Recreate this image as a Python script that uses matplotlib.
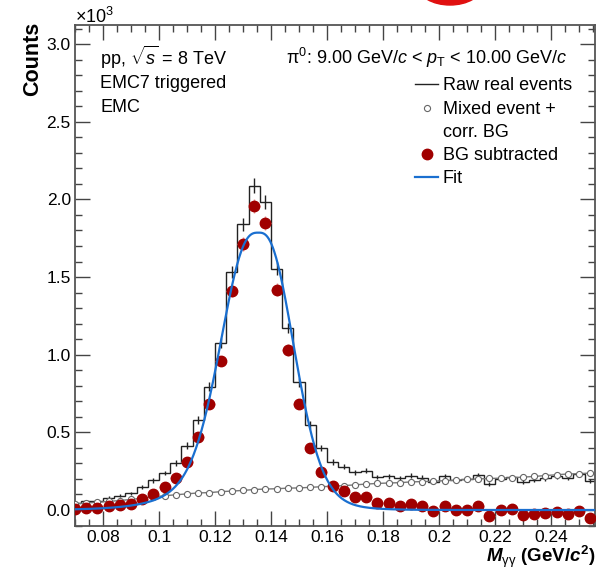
import numpy as np
import matplotlib.pyplot as plt
from matplotlib.lines import Line2D
from matplotlib.patches import Ellipse
from matplotlib.ticker import MultipleLocator, FuncFormatter

plt.rcParams['font.family'] = ['Liberation Sans', 'DejaVu Sans']
plt.rcParams['mathtext.fontset'] = 'custom'
plt.rcParams['mathtext.rm'] = 'Liberation Sans'
plt.rcParams['mathtext.it'] = 'Liberation Sans:italic'
plt.rcParams['mathtext.bf'] = 'Liberation Sans:bold'
plt.rcParams['mathtext.bfit'] = 'Liberation Sans:italic:bold'

# invariant mass bin centres (GeV/c^2), 4 MeV bins
mass = [0.070, 0.074, 0.078, 0.082, 0.086, 0.090, 0.094, 0.098, 0.102, 0.106,
        0.110, 0.114, 0.118, 0.122, 0.126, 0.130, 0.134, 0.138, 0.142, 0.146,
        0.150, 0.154, 0.158, 0.162, 0.166, 0.170, 0.174, 0.178, 0.182, 0.186,
        0.190, 0.194, 0.198, 0.202, 0.206, 0.210, 0.214, 0.218, 0.222, 0.226,
        0.230, 0.234, 0.238, 0.242, 0.246, 0.250, 0.254]
bin_width = 0.004

# counts in units of 10^3
raw = [0.045, 0.055, 0.061, 0.080, 0.091, 0.107, 0.148, 0.190, 0.238, 0.304,
       0.415, 0.580, 0.795, 1.077, 1.532, 1.839, 2.089, 1.981, 1.555, 1.171,
       0.822, 0.547, 0.397, 0.308, 0.279, 0.244, 0.253, 0.213, 0.216, 0.203,
       0.221, 0.208, 0.181, 0.216, 0.192, 0.197, 0.225, 0.166, 0.202, 0.213,
       0.180, 0.193, 0.204, 0.216, 0.206, 0.229, 0.189]
mixed = [0.040, 0.045, 0.050, 0.055, 0.061, 0.068, 0.076, 0.085, 0.092, 0.098,
         0.104, 0.110, 0.112, 0.118, 0.122, 0.126, 0.132, 0.135, 0.137, 0.141,
         0.142, 0.146, 0.150, 0.153, 0.157, 0.162, 0.167, 0.171, 0.174, 0.176,
         0.181, 0.183, 0.185, 0.189, 0.192, 0.197, 0.200, 0.203, 0.205, 0.208,
         0.212, 0.216, 0.222, 0.227, 0.232, 0.234, 0.238]
signal = [0.005, 0.010, 0.011, 0.025, 0.030, 0.039, 0.072, 0.105, 0.146, 0.206,
          0.311, 0.470, 0.683, 0.959, 1.410, 1.713, 1.957, 1.846, 1.418, 1.030,
          0.680, 0.401, 0.247, 0.155, 0.122, 0.082, 0.086, 0.042, 0.042, 0.027,
          0.040, 0.025, -0.004, 0.027, 0.000, 0.000, 0.025, -0.037, -0.003, 0.005,
          -0.032, -0.023, -0.018, -0.011, -0.026, -0.005, -0.049]

# peak fit: gaussian with exponential tails
fit_amp = 1.786
fit_mean = 0.1355
fit_sigma = 0.0105
fit_tail_lo = 0.011
fit_tail_hi = 0.008

mass = np.array(mass)
raw = np.array(raw)
mixed = np.array(mixed)
signal = np.array(signal)
raw_err = np.sqrt(raw * 1000) / 1000
sig_err = np.sqrt((raw + mixed) * 1000) / 1000


def peak(x):
    d = x - fit_mean
    g = np.exp(-0.5 * (d / fit_sigma) ** 2)
    lam = np.where(d < 0, fit_tail_lo, fit_tail_hi)
    return fit_amp * (g + (1 - g) * np.exp(-np.abs(d) / lam))


W, H = 604, 570
fig = plt.figure(figsize=(W / 100, H / 100), dpi=100)
ax = fig.add_axes([75 / W, 1 - 526 / H, 520 / W, 501 / H])

# raw histogram as steps plus error bars
edges = np.append(mass - bin_width / 2, mass[-1] + bin_width / 2)
ax.stairs(raw, edges, color='#222222', lw=1.0, zorder=2)
ax.errorbar(mass, raw, yerr=raw_err, fmt='none', ecolor='#222222', elinewidth=1.0, zorder=2)

ax.plot(mass, mixed, '-o', color='#777777', lw=1.0, ms=4.4, mfc='white',
        mec='#666666', mew=0.8, zorder=3)

ax.errorbar(mass, signal, yerr=sig_err, xerr=bin_width / 2, fmt='none',
            ecolor='#e89090', elinewidth=1.0, zorder=4)
ax.plot(mass, signal, 'o', color='#a00000', ms=7.5, mec='#a00000', zorder=5)

xf = np.linspace(0.07, 0.2557, 800)
ax.plot(xf, peak(xf), color='#1a6fd0', lw=1.6, zorder=6)

ax.set_xlim(0.07, 0.2557)
ax.set_ylim(-0.103, 3.123)

ax.xaxis.set_major_locator(MultipleLocator(0.02))
ax.xaxis.set_minor_locator(MultipleLocator(0.005))
ax.yaxis.set_major_locator(MultipleLocator(0.5))
ax.yaxis.set_minor_locator(MultipleLocator(0.1))
ax.xaxis.set_major_formatter(FuncFormatter(lambda v, p: f'{v:g}'))
ax.yaxis.set_major_formatter(FuncFormatter(lambda v, p: f'{v:.1f}'))
ax.tick_params(which='both', direction='in', top=True, right=True,
               color='#444444', width=1.0, labelsize=12.5)
ax.tick_params(which='major', length=10.5)
ax.tick_params(which='minor', length=5.2)
ax.tick_params(axis='x', pad=3)
ax.tick_params(axis='y', pad=3)
for s in ax.spines.values():
    s.set_color('#555555')
    s.set_linewidth(1.3)


def fx(px):
    return px / W


def fy(py):
    return 1 - py / H


fig.text(fx(75), fy(23), r'$\times$10$^{3}$', fontsize=13, ha='left', va='baseline')
fig.text(fx(33), fy(22), 'Counts', fontsize=15.5, fontweight='bold',
         rotation=90, ha='center', va='top')
fig.text(fx(595), fy(562),
         r'$\mathbfit{M}_{\mathrm{\gamma\gamma}}$ (GeV/$\mathbfit{c}^{\mathbf{2}}$)',
         fontsize=13.5, fontweight='bold', ha='right', va='baseline')

fs = 13
fig.text(fx(100), fy(65), r'pp, $\sqrt{s}$ = 8 TeV', fontsize=fs, va='baseline')
fig.text(fx(100), fy(87.5), 'EMC7 triggered', fontsize=fs, va='baseline')
fig.text(fx(100), fy(111.5), 'EMC', fontsize=fs, va='baseline')
fig.text(fx(567), fy(63.5),
         r'π$^{0}$: 9.00 GeV/$c$ < $p_{\mathrm{T}}$ < 10.00 GeV/$c$',
         fontsize=fs, ha='right', va='baseline')

# legend
tx = fx(443)
fig.add_artist(Line2D([fx(415), fx(438)], [fy(84), fy(84)], color='#222222', lw=1.0))
fig.text(tx, fy(90), 'Raw real events', fontsize=fs, va='baseline')
fig.add_artist(Line2D([fx(427)], [fy(108)], marker='o', ms=4.4, mfc='white',
                      mec='#666666', mew=0.8, ls='none'))
fig.text(tx, fy(114.3), 'Mixed event +', fontsize=fs, va='baseline')
fig.text(tx, fy(136.7), 'corr. BG', fontsize=fs, va='baseline')
fig.add_artist(Line2D([fx(427)], [fy(154)], marker='o', ms=7.5, color='#a00000', ls='none'))
fig.text(tx, fy(160), 'BG subtracted', fontsize=fs, va='baseline')
fig.add_artist(Line2D([fx(415), fx(438)], [fy(177), fy(177)], color='#1a6fd0', lw=1.6))
fig.text(tx, fy(183.3), 'Fit', fontsize=fs, va='baseline')

fig.add_artist(Ellipse((fx(450), fy(-14)), width=64 / W, height=38 / H,
                       color='#e01010', transform=fig.transFigure))

fig.savefig('out.png', dpi=100)
